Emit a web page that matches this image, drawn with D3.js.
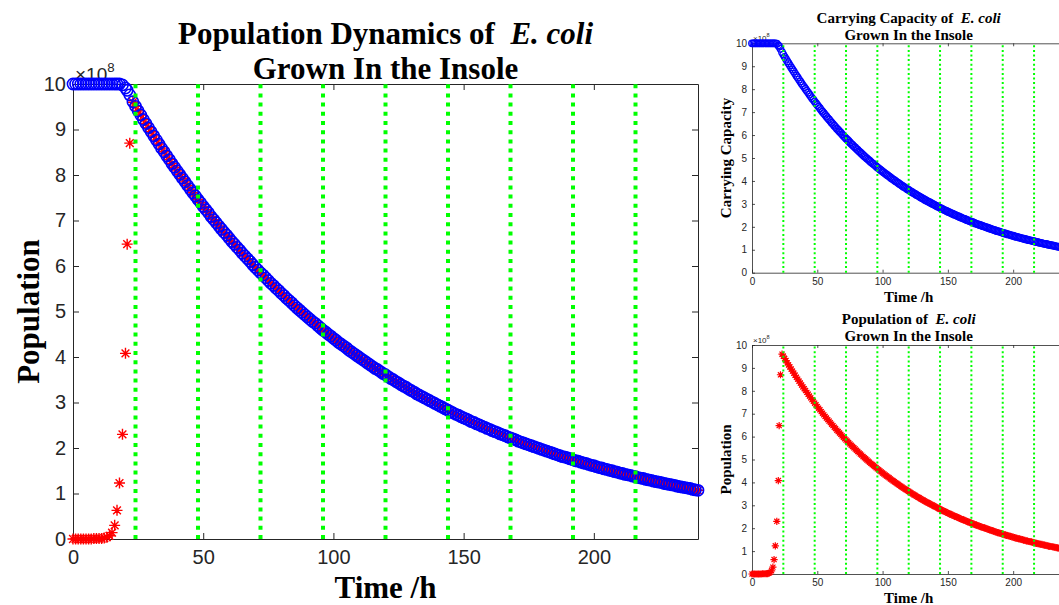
<!DOCTYPE html>
<html>
<head>
<meta charset="utf-8">
<script src="https://cdn.jsdelivr.net/npm/d3@7"></script>
<style>
  html, body { margin: 0; padding: 0; background: #fff; }
  svg { display: block; }
</style>
</head>
<body>
<svg id="chart" width="1059" height="605"></svg>
<script>
// ---- data (populations in units of 1e8 cells) ----
const xTicks = [0, 50, 100, 150, 200];
const yTicks = [0, 1, 2, 3, 4, 5, 6, 7, 8, 9, 10];
const dayMarks = [24, 48, 72, 96, 120, 144, 168, 192, 216];   // one every 24 h

// solver output during lag + exponential growth phase
const earlyHours = [0, 1, 2, 3, 4, 5, 6, 7, 8, 9, 10, 11, 12, 13, 14, 15,
                    16, 16.9, 17.85, 19, 20.15, 20.8, 21.8];
const earlyCapacity = [10, 10, 10, 10, 10, 10, 10, 10, 10, 10, 10, 10, 10, 10, 10, 10,
                       10, 10, 10, 9.98, 9.91, 9.86, 9.76];
const earlyPopulation = [0.00, 0.00, 0.00, 0.00, 0.00, 0.00, 0.00, 0.00, 0.01, 0.01, 0.01, 0.01, 0.02, 0.04, 0.07, 0.14,
                         0.30, 0.63, 1.23, 2.30, 4.08, 6.48, 8.70];

// hourly output from 23 h to 240 h
const lateHours = d3.range(23, 241);
const lateCapacityHead = [9.61];
const latePopulationHead = [9.60];
// from 24 h on the population sits on the carrying capacity
const decline = [
  9.51, 9.41, 9.32, 9.22, 9.13,
  9.04, 8.95, 8.86, 8.77, 8.68, 8.59, 8.51, 8.42, 8.34, 8.25,
  8.17, 8.09, 8.01, 7.93, 7.85, 7.77, 7.69, 7.61, 7.54, 7.46,
  7.39, 7.31, 7.24, 7.17, 7.09, 7.02, 6.95, 6.88, 6.81, 6.74,
  6.68, 6.61, 6.54, 6.48, 6.41, 6.35, 6.28, 6.22, 6.16, 6.10,
  6.03, 5.97, 5.91, 5.85, 5.80, 5.74, 5.68, 5.62, 5.57, 5.51,
  5.46, 5.40, 5.35, 5.29, 5.24, 5.19, 5.13, 5.08, 5.03, 4.98,
  4.93, 4.88, 4.83, 4.78, 4.74, 4.69, 4.64, 4.59, 4.55, 4.50,
  4.46, 4.41, 4.37, 4.32, 4.28, 4.24, 4.20, 4.15, 4.11, 4.07,
  4.03, 3.99, 3.95, 3.91, 3.87, 3.83, 3.79, 3.75, 3.72, 3.68,
  3.64, 3.61, 3.57, 3.53, 3.50, 3.46, 3.43, 3.39, 3.36, 3.33,
  3.29, 3.26, 3.23, 3.19, 3.16, 3.13, 3.10, 3.07, 3.04, 3.01,
  2.98, 2.95, 2.92, 2.89, 2.86, 2.83, 2.80, 2.77, 2.74, 2.72,
  2.69, 2.66, 2.64, 2.61, 2.58, 2.56, 2.53, 2.51, 2.48, 2.46,
  2.43, 2.41, 2.38, 2.36, 2.34, 2.31, 2.29, 2.27, 2.24, 2.22,
  2.20, 2.18, 2.15, 2.13, 2.11, 2.09, 2.07, 2.05, 2.03, 2.01,
  1.99, 1.97, 1.95, 1.93, 1.91, 1.89, 1.87, 1.85, 1.83, 1.81,
  1.80, 1.78, 1.76, 1.74, 1.72, 1.71, 1.69, 1.67, 1.66, 1.64,
  1.62, 1.61, 1.59, 1.57, 1.56, 1.54, 1.53, 1.51, 1.50, 1.48,
  1.47, 1.45, 1.44, 1.42, 1.41, 1.40, 1.38, 1.37, 1.35, 1.34,
  1.33, 1.31, 1.30, 1.29, 1.27, 1.26, 1.25, 1.24, 1.22, 1.21,
  1.20, 1.19, 1.18, 1.16, 1.15, 1.14, 1.13, 1.12, 1.11, 1.09,
  1.08, 1.07
];

const hours = earlyHours.concat(lateHours);
const capacity = earlyCapacity.concat(lateCapacityHead, decline);
const population = earlyPopulation.concat(latePopulationHead, decline);

const capacityPts = hours.map((t, i) => ({ t, v: capacity[i] }));
const populationPts = hours.map((t, i) => ({ t, v: population[i] }));

// ---- styling ----
const AX = '#262626';
const SANS = "'Liberation Sans', Arial, Helvetica, sans-serif";
const SERIF = "'Liberation Serif', 'Times New Roman', Times, serif";

const svg = d3.select('#chart');
svg.append('rect').attr('width', 1059).attr('height', 605).attr('fill', '#fff');

function starPath(r) {
  const a = r * 0.7071;
  return `M${-r},0L${r},0M0,${-r}L0,${r}M${-a},${-a}L${a},${a}M${-a},${a}L${a},${-a}`;
}

function panel(o) {
  const x = d3.scaleLinear().domain([0, 240]).range([o.left, o.right]);
  const y = d3.scaleLinear().domain([0, 10]).range([o.bottom, o.top]);
  const g = svg.append('g');

  // axes box with inward ticks
  const styleAxis = sel => {
    sel.select('.domain').attr('stroke', AX).attr('stroke-width', o.axisW);
    sel.selectAll('.tick line').attr('stroke', AX).attr('stroke-width', o.axisW);
    sel.selectAll('.tick text').attr('fill', AX).attr('font-family', SANS).attr('font-size', o.tickFont);
  };
  g.append('g').attr('transform', `translate(0,${o.bottom})`)
    .call(d3.axisBottom(x).tickValues(xTicks).tickSize(-o.tick).tickSizeOuter(0).tickPadding(o.xPad))
    .call(styleAxis);
  g.append('g').attr('transform', `translate(0,${o.top})`)
    .call(d3.axisTop(x).tickValues(xTicks).tickSize(-o.tick).tickSizeOuter(0).tickFormat(() => ''))
    .call(styleAxis);
  g.append('g').attr('transform', `translate(${o.left},0)`)
    .call(d3.axisLeft(y).tickValues(yTicks).tickSize(-o.tick).tickSizeOuter(0).tickPadding(o.yPad))
    .call(styleAxis);
  g.append('g').attr('transform', `translate(${o.right},0)`)
    .call(d3.axisRight(y).tickValues(yTicks).tickSize(-o.tick).tickSizeOuter(0).tickFormat(() => ''))
    .call(styleAxis);

  // exponent label
  const ex = g.append('text').attr('x', o.left + o.expDx).attr('y', o.top + o.expDy)
    .attr('font-family', SANS).attr('font-size', o.expFont).attr('fill', AX);
  ex.append('tspan').text('\u00d710');
  ex.append('tspan').attr('font-size', o.expFont * 0.7).attr('dy', -o.expFont * 0.5).text('8');

  // population (red stars)
  if (o.showPop) {
    g.append('g').selectAll('path').data(populationPts).join('path')
      .attr('transform', d => `translate(${x(d.t)},${y(d.v)})`)
      .attr('d', starPath(o.starR))
      .attr('fill', 'none').attr('stroke', '#ff0000').attr('stroke-width', o.starW);
  }
  // carrying capacity (blue circles)
  if (o.showCap) {
    g.append('g').selectAll('circle').data(capacityPts).join('circle')
      .attr('cx', d => x(d.t)).attr('cy', d => y(d.v)).attr('r', o.circR)
      .attr('fill', 'none').attr('stroke', '#0000ff').attr('stroke-width', o.circW);
  }

  // daily markers
  g.append('g').selectAll('line').data(dayMarks).join('line')
    .attr('x1', d => x(d)).attr('x2', d => x(d))
    .attr('y1', y(0)).attr('y2', y(10))
    .attr('stroke', '#00ff00').attr('stroke-width', o.greenW)
    .attr('stroke-dasharray', o.greenDash);

  // title
  const cx = (o.left + o.right) / 2;
  const t1 = g.append('text').attr('x', cx).attr('y', o.titleY1).attr('text-anchor', 'middle')
    .attr('font-family', SERIF).attr('font-weight', 'bold').attr('font-size', o.titleFont).attr('fill', '#000');
  t1.append('tspan').text(o.titleLead + ' of\u00a0\u00a0');
  t1.append('tspan').attr('font-style', 'italic').text('E. coli');
  g.append('text').attr('x', cx).attr('y', o.titleY2).attr('text-anchor', 'middle')
    .attr('font-family', SERIF).attr('font-weight', 'bold').attr('font-size', o.titleFont).attr('fill', '#000')
    .text('Grown In the Insole');

  // axis labels
  g.append('text').attr('x', cx).attr('y', o.xLabelY).attr('text-anchor', 'middle')
    .attr('font-family', SERIF).attr('font-weight', 'bold').attr('font-size', o.labelFont).attr('fill', '#000')
    .text('Time /h');
  g.append('text').attr('transform', `translate(${o.yLabelX},${(o.top + o.bottom) / 2}) rotate(-90)`)
    .attr('text-anchor', 'middle')
    .attr('font-family', SERIF).attr('font-weight', 'bold').attr('font-size', o.labelFont).attr('fill', '#000')
    .text(o.yLabel);
}

// main panel: both series
panel({
  left: 73, right: 698, top: 84, bottom: 539,
  tick: 6, axisW: 1, tickFont: 20, xPad: 11, yPad: 7,
  expDx: 2, expDy: -3, expFont: 19,
  showPop: true, showCap: true, starR: 5.5, starW: 1.4, circR: 5.6, circW: 1.6,
  greenW: 4, greenDash: '4 5.2',
  titleLead: 'Population Dynamics', titleFont: 31, titleY1: 44, titleY2: 79,
  labelFont: 31, xLabelY: 598, yLabelX: 39, yLabel: 'Population'
});

// top right: carrying capacity only
panel({
  left: 752, right: 1065.4, top: 43.3, bottom: 272.7,
  tick: 3, axisW: 0.8, tickFont: 10, xPad: 5, yPad: 5,
  expDx: 1, expDy: -2, expFont: 8,
  showPop: false, showCap: true, circR: 3.3, circW: 1.2,
  greenW: 2, greenDash: '2 2.6',
  titleLead: 'Carrying Capacity', titleFont: 15, titleY1: 23, titleY2: 39.5,
  labelFont: 15, xLabelY: 302, yLabelX: 731, yLabel: 'Carrying Capacity'
});

// bottom right: population only
panel({
  left: 752, right: 1065.4, top: 345, bottom: 574,
  tick: 3, axisW: 0.8, tickFont: 10, xPad: 5, yPad: 5,
  expDx: 1, expDy: -2, expFont: 8,
  showPop: true, showCap: false, starR: 3.6, starW: 1.2,
  greenW: 2, greenDash: '2 2.6',
  titleLead: 'Population', titleFont: 15, titleY1: 324, titleY2: 341,
  labelFont: 15, xLabelY: 603, yLabelX: 731, yLabel: 'Population'
});
</script>
</body>
</html>
